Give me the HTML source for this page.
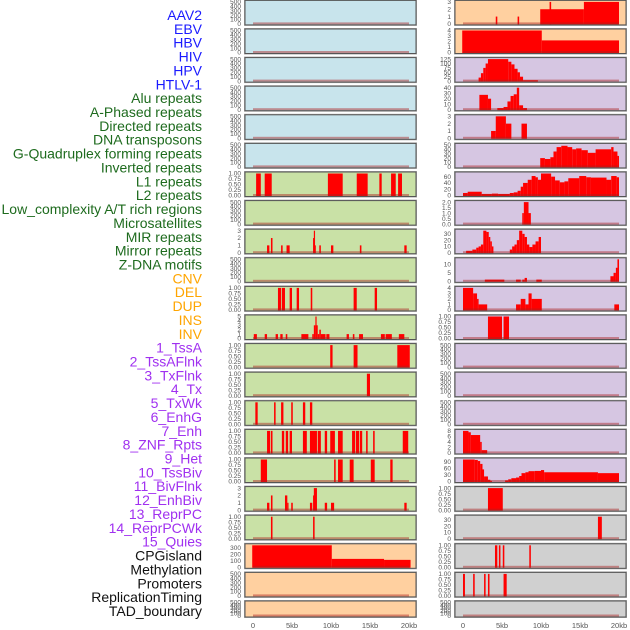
<!DOCTYPE html>
<html><head><meta charset="utf-8"><style>
body{margin:0;background:#fff;width:630px;height:630px;overflow:hidden}
svg{display:block}
</style></head><body>
<svg id="chart" width="630" height="630" xmlns="http://www.w3.org/2000/svg" font-family="Liberation Sans, sans-serif"></svg>
<script>
const trackLabels = ["AAV2","EBV","HBV","HIV","HPV","HTLV-1","Alu repeats","A-Phased repeats","Directed repeats","DNA transposons","G-Quadruplex forming repeats","Inverted repeats","L1 repeats","L2 repeats","Low_complexity A/T rich regions","Microsatellites","MIR repeats","Mirror repeats","Z-DNA motifs","CNV","DEL","DUP","INS","INV","1_TssA","2_TssAFlnk","3_TxFlnk","4_Tx","5_TxWk","6_EnhG","7_Enh","8_ZNF_Rpts","9_Het","10_TssBiv","11_BivFlnk","12_EnhBiv","13_ReprPC","14_ReprPCWk","15_Quies","CPGisland","Methylation","Promoters","ReplicationTiming","TAD_boundary"];
const labelColors = [];
for (let i=0;i<44;i++){labelColors.push(i<6?"#1a1aff":i<19?"#1e6b1e":i<24?"#ffa500":i<39?"#a030f0":"#111");}
const xTicks = [0,5,10,15,20];
const xTickLabels = ["0","5kb","10kb","15kb","20kb"];
const leftBg = ["#c8e4ec","#c8e4ec","#c8e4ec","#c8e4ec","#c8e4ec","#c8e4ec","#c9e1a6","#c9e1a6","#c9e1a6","#c9e1a6","#c9e1a6","#c9e1a6","#c9e1a6","#c9e1a6","#c9e1a6","#c9e1a6","#c9e1a6","#c9e1a6","#c9e1a6","#ffd0a0","#ffd0a0","#ffd0a0"];
const rightBg = ["#ffd0a0","#ffd0a0","#d6c6e2","#d6c6e2","#d6c6e2","#d6c6e2","#d6c6e2","#d6c6e2","#d6c6e2","#d6c6e2","#d6c6e2","#d6c6e2","#d6c6e2","#d6c6e2","#d6c6e2","#d6c6e2","#d6c6e2","#d0d0d0","#d0d0d0","#d0d0d0","#d0d0d0","#d0d0d0"];
const T500=[0,100,200,300,400,500], T1=[0,0.25,0.5,0.75,1];
const leftTicks = [T500,T500,T500,T500,T500,T500,T1,T500,[0,1,2,3],T500,T1,[0,1,2,3,4,5],T1,T1,T1,T1,T1,[0,1,2,3],T1,[0,100,200,300],T500,T500];
const leftMax = [500,500,500,500,500,500,1,500,3,500,1,5,1,1,1,1,1,3,1,340,500,500];
const rightTicks = [[0,1,2,3],[0,1,2,3,4],[0,25,50,75,100,125],[0,10,20,30,40],[0,1,2,3],[0,10,20,30,40,50],[0,20,40,60],[0,0.5,1,1.5,2],[0,10,20,30],[0,5,10],[0,1,2,3,4],T1,T500,T500,T500,[0,2,4,6,8],[0,30,60,90],T1,[0,10,20,30],T1,T1,T500];
const rightMax = [3,4,125,40,3,50,70,2,35,13,4,1,500,500,500,8,100,1,35,1,1,500];
const leftSegs = [[],[],[],[],[],[],
[[0.4,1.0,1],[1.5,2.4,1],[9.6,11.5,1],[13.3,14.7,1],[16.2,16.5,1],[17.7,18.3,1],[18.6,19.1,1]],
[],
[[1.8,2.1,1],[2.3,2.5,2],[3.6,3.8,1],[4.3,4.7,1],[7.7,7.8,2],[7.8,7.9,3],[7.9,8.0,1],[8.5,8.7,1],[10.0,10.3,1],[13.7,13.9,1],[19.4,19.7,1]],
[],
[[3.2,3.6,1],[3.7,4.1,1],[4.7,5.0,1],[5.6,5.9,1],[7.4,7.6,1],[12.9,13.3,1],[15.6,15.9,1]],
[[0.1,0.5,1],[1.5,1.8,1],[2.9,3.2,1],[3.5,3.8,1],[4.2,4.4,1],[6.2,7.1,1],[7.6,7.8,1],[7.8,8.0,3],[8.0,8.1,5],[8.1,8.3,3],[8.3,8.5,1],[8.5,8.7,2],[8.7,9.3,1],[9.4,9.8,1],[12.0,12.3,1],[12.8,13.0,1],[13.6,14.1,1],[16.4,16.9,1],[17.0,17.8,1],[18.7,19.4,1]],
[[9.9,10.2,1],[12.9,13.4,1],[18.5,20.1,1]],
[[14.6,15.0,1]],
[[0.3,0.6,1],[2.7,2.9,1],[3.6,3.9,1],[4.9,5.1,1],[6.4,6.7,1],[7.3,7.6,1]],
[[1.8,2.2,1],[2.3,2.5,1],[3.7,4.0,1],[4.2,4.5,1],[4.7,5.0,1],[6.4,6.9,1],[7.3,8.2,1],[8.3,8.7,1],[9.2,9.5,1],[9.9,10.5,1],[10.9,11.5,1],[12.7,13.1,1],[13.2,13.6,1],[13.7,14.0,1],[14.5,14.7,1],[15.4,15.6,1],[19.2,19.9,1]],
[[1.0,1.8,1],[10.4,10.6,1],[10.9,11.5,1],[12.4,12.9,1],[15.1,15.6,1],[17.6,17.9,1]],
[[1.8,2.1,1],[2.3,2.5,2],[4.1,4.2,2],[4.2,4.4,2],[4.4,4.5,1],[4.9,5.1,1],[7.3,7.6,1],[7.7,7.8,2],[7.8,8.2,3],[9.2,9.5,1],[10.0,10.4,1],[19.4,19.7,1]],
[[2.3,2.5,1],[7.7,7.9,1]],
[[-0.1,10.1,340],[10.1,16.8,130],[16.8,20.2,115]],
[],[]];
const rightSegs = [
[[4.2,4.4,1],[7.0,7.2,1],[9.9,15.5,2],[11.1,11.3,3],[15.5,20,3]],
[[-0.1,10.1,4],[10.1,20,2.2]],
[[2.0,2.3,20],[2.3,2.6,45],[2.6,2.9,75],[2.9,3.2,100],[3.2,5.8,125],[5.8,6.2,110],[6.2,6.6,95],[6.6,7.0,70],[7.0,7.3,50],[7.3,7.7,25],[7.7,9.6,5]],
[[2.1,3.2,27],[3.2,3.6,20],[4.4,5.2,3],[5.2,5.7,5],[5.7,6.1,15],[6.1,6.5,25],[6.5,6.9,28],[6.9,7.2,40],[7.2,7.7,8],[7.7,8.2,3]],
[[3.6,4.2,1],[4.2,5.5,3],[5.5,6.2,2],[7.5,8.2,2]],
[[9.9,10.5,20],[10.5,11.2,18],[11.2,11.6,22],[11.6,12.0,35],[12.0,12.6,45],[12.6,13.4,48],[13.4,14.0,45],[14.0,14.5,40],[14.5,15.2,42],[15.2,16.0,38],[16.0,17.0,32],[17.0,19.0,40],[19.0,19.3,45],[19.3,19.8,35],[19.8,20,25]],
[[0,0.6,8],[0.6,2.4,12],[2.4,3.7,5],[3.7,4.5,6],[4.5,6.0,5],[6.0,6.5,8],[6.5,7.0,10],[7.0,7.4,15],[7.4,7.7,28],[7.7,8.3,40],[8.3,8.8,50],[8.8,9.3,62],[9.3,9.6,58],[9.6,10.0,50],[10.0,11.3,70],[11.3,11.8,60],[11.8,12.4,48],[12.4,13.0,42],[13.0,13.5,45],[13.5,14.9,55],[14.9,15.8,62],[15.8,16.4,58],[16.4,18.4,57],[18.4,19.0,50],[19.0,19.7,62],[19.7,20,58]],
[[7.6,7.8,1],[7.8,8.4,2],[8.4,8.7,1]],
[[0.4,1.2,3],[1.2,1.7,5],[1.7,2.0,8],[2.0,2.3,10],[2.3,2.6,13],[2.6,3.0,35],[3.0,3.3,33],[3.3,3.5,25],[3.5,3.7,18],[3.7,3.2+0.7,10],[6.0,6.3,5],[6.3,6.6,10],[6.6,6.9,13],[6.9,7.2,20],[7.2,7.6,35],[7.6,7.9,30],[7.9,8.2,25],[8.2,8.5,13],[8.5,8.9,9],[8.9,9.3,13],[9.3,9.7,18],[9.7,10.0,25]],
[[2.8,5.3,1],[6.8,7.4,1],[7.6,7.9,1],[7.9,8.2,2],[9.4,10.1,1],[18.9,19.3,3],[19.3,19.6,5],[19.6,19.8,8],[19.8,20,13]],
[[0,1.3,4],[1.3,1.8,3],[1.8,2.0,2],[2.0,3.1,1],[6.8,7.4,1],[7.4,8.0,2],[8.0,8.4,1],[8.4,8.8,3],[8.8,10.1,2],[19.4,20,1]],
[[3.2,5.0,1],[5.2,5.9,1]],
[],[],[],
[[0,0.7,8],[0.7,1.0,7.5],[1.0,2.2,6.5],[2.2,2.4,4],[2.4,3.1,1]],
[[0,1.5,100],[1.5,1.9,98],[1.9,2.2,93],[2.2,2.5,80],[2.5,2.7,55],[2.7,3.2,23],[3.2,3.5,8],[3.5,3.7,3],[5.4,5.8,5],[5.8,6.2,10],[6.2,6.8,15],[6.8,7.2,18],[7.2,7.5,25],[7.5,8.0,38],[8.0,8.4,42],[8.4,9.2,47],[9.2,10.0,48],[10.0,10.4,52],[10.4,17.3,42],[17.3,20,38]],
[[3.2,5.1,1]],
[[17.3,17.8,35]],
[[4.1,4.4,1],[4.6,4.8,1],[5.1,5.3,1],[8.5,8.7,1]],
[[0,0.25,1],[1.3,1.5,1],[2.7,2.9,1],[3.2,3.4,1],[5.2,5.6,1]],
[]];

const NS="http://www.w3.org/2000/svg";
const svg=document.getElementById('chart');
function mk(tag,attrs,parent){const e=document.createElementNS(NS,tag);for(const k in attrs)e.setAttribute(k,attrs[k]);(parent||svg).appendChild(e);return e;}
const PITCH=28.6, PH=24.5;
function rowTop(i){return 0.4+i*PITCH;}
function rowH(i){return i===21?16:PH;}
function fmt(t,ticks){const mx=ticks[ticks.length-1];if(mx===1)return t.toFixed(2);if(mx===2)return t.toFixed(1);return String(t);}

// labels
trackLabels.forEach((lab,i)=>{
  const t=mk('text',{x:202,y:15+i*13.86+5,'text-anchor':'end','font-size':'14',fill:labelColors[i]});
  t.textContent=lab;
  
  
});

function panel(col,i,bg,ticks,ymax,segs){
  const px=col===0?245:455, x0=col===0?253:463, pw=171;
  const top=rowTop(i), h=rowH(i), bot=top+h-1, inner=h-2.5;
  const g=mk('g',{});
  
  
  mk('rect',{x:px-0.5,y:top-0.5,width:pw+1,height:h+1,fill:'none',stroke:'#aaa','stroke-width':1},g);
  mk('rect',{x:px,y:top,width:pw,height:h,fill:bg},g);
  const ys=v=>bot-v/ymax*inner;
  const xs=k=>x0+k*7.8;
  segs.forEach(s=>{
    const y=ys(s[2]);
    const r=mk('rect',{x:xs(s[0]),y:y,width:Math.max(1.2,xs(s[1])-xs(s[0])),height:bot-y+0.5,fill:'#ff0000'},g);
    
    
  });
  mk('rect',{x:xs(0),y:bot-1.5,width:xs(20)-xs(0),height:2,fill:'rgba(170,30,30,0.45)'},g);
  mk('rect',{x:px,y:top,width:pw,height:h,fill:'none',stroke:'#555','stroke-width':1},g);
  ticks.forEach(t=>{
    const tt=mk('text',{x:px-4,y:ys(t)+2.2,'text-anchor':'end','font-size':'6.5',fill:'#555'},g);
    tt.textContent=fmt(t,ticks);
    
    
  });
}
for(let i=0;i<22;i++){
  panel(0,i,leftBg[i],leftTicks[i],leftMax[i],leftSegs[i]);
  panel(1,i,rightBg[i],rightTicks[i],rightMax[i],rightSegs[i]);
}
[253,463].forEach((x0,c)=>{
  xTicks.forEach((k,j)=>{
    const t=mk('text',{x:x0+k*7.8,y:628,'text-anchor':'middle','font-size':'7.5',fill:'#555'});
    t.textContent=xTickLabels[j];
    
    
  });
});
</script>
</body></html>
